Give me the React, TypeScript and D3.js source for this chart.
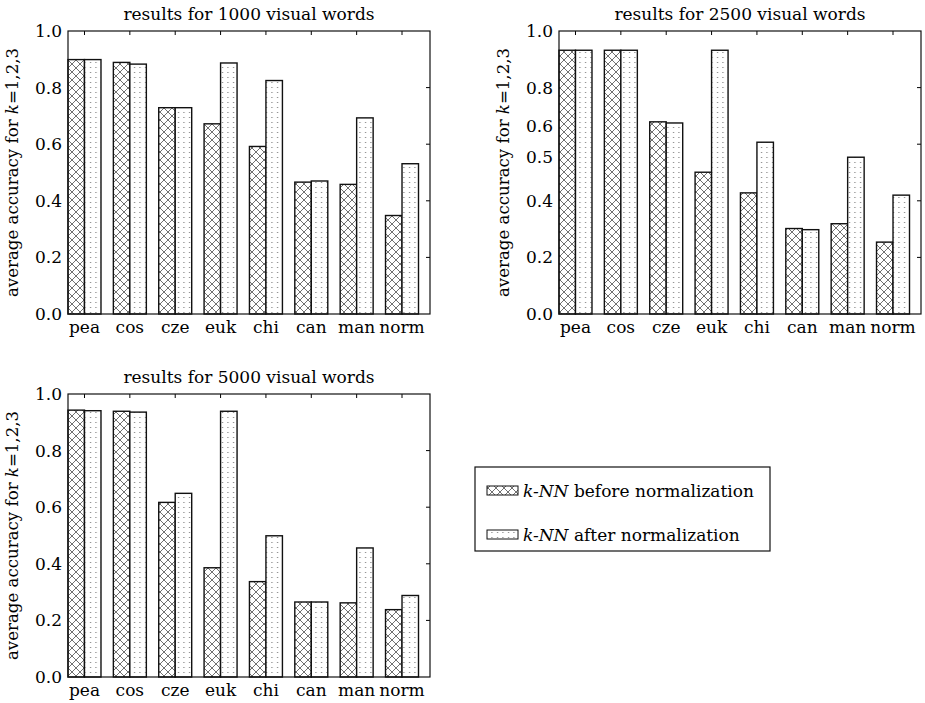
import React from "react";
import * as d3 from "d3";

const categories = ["pea", "cos", "cze", "euk", "chi", "can", "man", "norm"];

const before1000 = [0.899, 0.889, 0.729, 0.672, 0.592, 0.466, 0.458, 0.348];
const after1000 = [0.899, 0.883, 0.729, 0.887, 0.825, 0.47, 0.693, 0.531];

const before2500 = [0.932, 0.932, 0.679, 0.501, 0.428, 0.302, 0.319, 0.254];
const after2500 = [0.932, 0.932, 0.675, 0.932, 0.607, 0.298, 0.554, 0.42];

const before5000 = [0.943, 0.939, 0.617, 0.386, 0.337, 0.265, 0.262, 0.238];
const after5000 = [0.941, 0.936, 0.649, 0.939, 0.499, 0.265, 0.456, 0.288];

const tickValues = [0, 0.2, 0.4, 0.6, 0.8, 1.0];
const tickLabels = ["0.0", "0.2", "0.4", "0.6", "0.8", "1.0"];
// the 2500 panel carries shifted labels in the original figure
const tickValues2500 = [0, 0.2, 0.4, 0.555, 0.664, 0.8, 1.0];
const tickLabels2500 = ["0.0", "0.2", "0.4", "0.5", "0.6", "0.8", "1.0"];

const titles = [
  "results for 1000 visual words",
  "results for 2500 visual words",
  "results for 5000 visual words",
];
const legendLabels = [" before normalization", " after normalization"];

const FONT = '"DejaVu Serif", "Liberation Serif", serif';

type PanelProps = {
  left: number;
  right: number;
  top: number;
  bottom: number;
  title: string;
  before: number[];
  after: number[];
  tVals: number[];
  tLabels: string[];
};

function Panel({ left, right, top, bottom, title, before, after, tVals, tLabels }: PanelProps) {
  const bw = 0.3636;
  const x = d3.scaleLinear().domain([-bw, categories.length - 1 + 0.617]).range([left, right]);
  const y = d3.scaleLinear().domain([0, 1]).range([bottom, top]);
  const innerTicks = [0.2, 0.4, 0.6, 0.8];
  const tl = 4;
  return (
    <g>
      <text x={(left + right) / 2} y={top - 11} textAnchor="middle" style={{ fontFamily: FONT, fontSize: 17 }}>
        {title}
      </text>
      {categories.map((c, i) => (
        <g key={c}>
          <line x1={x(i)} x2={x(i)} y1={top} y2={top + tl} stroke="#000" strokeWidth={1} />
          <line x1={x(i)} x2={x(i)} y1={bottom} y2={bottom - tl} stroke="#000" strokeWidth={1} />
        </g>
      ))}
      {innerTicks.map((t) => (
        <g key={t}>
          <line x1={right} x2={right - tl} y1={y(t)} y2={y(t)} stroke="#000" strokeWidth={1} />
          <line x1={left} x2={left + tl} y1={y(t)} y2={y(t)} stroke="#000" strokeWidth={1} />
        </g>
      ))}
      {categories.map((c, i) => (
        <g key={"b" + c}>
          <rect
            x={x(i - bw)}
            y={y(before[i])}
            width={x(i) - x(i - bw)}
            height={y(0) - y(before[i])}
            fill="url(#hatch)"
            stroke="#111"
            strokeWidth={1.4}
          />
          <rect
            x={x(i)}
            y={y(after[i])}
            width={x(i + bw) - x(i)}
            height={y(0) - y(after[i])}
            fill="url(#dots)"
            stroke="#111"
            strokeWidth={1.4}
          />
        </g>
      ))}
      <rect x={left} y={top} width={right - left} height={bottom - top} fill="none" stroke="#111" strokeWidth={1.2} />
      {tVals.map((t, i) => (
        <text
          key={"yl" + i}
          x={left - 6}
          y={y(t)}
          textAnchor="end"
          dominantBaseline="central"
          style={{ fontFamily: FONT, fontSize: 17 }}
        >
          {tLabels[i]}
        </text>
      ))}
      {categories.map((c, i) => (
        <text key={"xl" + c} x={x(i)} y={bottom + 19} textAnchor="middle" style={{ fontFamily: FONT, fontSize: 17 }}>
          {c}
        </text>
      ))}
      <text
        transform={`translate(${left - 50},${(top + bottom) / 2}) rotate(-90)`}
        textAnchor="middle"
        style={{ fontFamily: FONT, fontSize: 16.6 }}
      >
        average accuracy for <tspan fontStyle="italic">k</tspan>=1,2,3
      </text>
    </g>
  );
}

export default function App() {
  return (
    <div style={{ position: "absolute", left: 0, top: 0 }}>
      <svg width={925} height={703} style={{ display: "block", background: "#fff" }}>
        <defs>
          <pattern id="hatch" patternUnits="userSpaceOnUse" width={8} height={8}>
            <rect width={8} height={8} fill="#fff" />
            <path d="M0,0 L8,8 M8,0 L0,8" stroke="#333" strokeWidth={0.7} />
          </pattern>
          <pattern id="dots" patternUnits="userSpaceOnUse" width={5.5} height={5}>
            <rect width={5.5} height={5} fill="#fff" />
            <rect x={2} y={2} width={1} height={1} fill="#666" />
          </pattern>
        </defs>
        <rect width={925} height={703} fill="#fff" />
        <Panel left={68} right={430} top={31} bottom={314} title={titles[0]} before={before1000} after={after1000} tVals={tickValues} tLabels={tickLabels} />
        <Panel left={559} right={921} top={31} bottom={314} title={titles[1]} before={before2500} after={after2500} tVals={tickValues2500} tLabels={tickLabels2500} />
        <Panel left={68} right={430} top={394} bottom={677} title={titles[2]} before={before5000} after={after5000} tVals={tickValues} tLabels={tickLabels} />
        <g>
          <rect x={475} y={467} width={295} height={84} fill="#fff" stroke="#111" strokeWidth={1.2} />
          {legendLabels.map((l, i) => (
            <g key={l}>
              <rect
                x={487}
                y={486 + i * 44}
                width={31}
                height={9}
                fill={i === 0 ? "url(#hatch)" : "url(#dots)"}
                stroke="#111"
                strokeWidth={1}
              />
              <text x={523} y={491 + i * 44} dominantBaseline="central" style={{ fontFamily: FONT, fontSize: 17 }}>
                <tspan fontStyle="italic">k-NN</tspan>
                {l}
              </text>
            </g>
          ))}
        </g>
      </svg>
    </div>
  );
}
